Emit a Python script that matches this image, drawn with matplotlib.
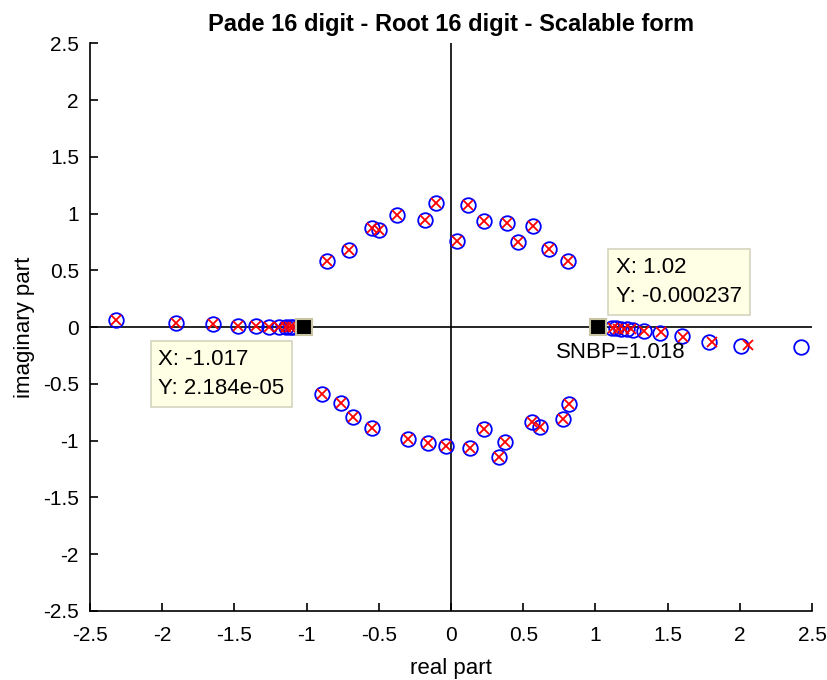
import matplotlib
matplotlib.use("Agg")
import matplotlib.pyplot as plt

plt.rcParams['font.family'] = ['Liberation Sans', 'DejaVu Sans']

# Blue circles (zeros)
circle_re = [-2.320, -1.907, -1.648, -1.473, -1.350, -1.258, -1.189, -1.143, -1.115, -1.094,
             -0.861, -0.706, -0.549, -0.499, -0.372, -0.180, -0.102, 0.039, 0.120, 0.231,
             0.386, 0.462, 0.566, 0.681, 0.812,
             -0.896, -0.764, -0.676, -0.547, -0.300, -0.157, -0.035, 0.134, 0.229, 0.335,
             0.376, 0.559, 0.619, 0.774, 0.819,
             1.117, 1.145, 1.180, 1.221, 1.262, 1.338, 1.447, 1.602, 1.787, 2.011, 2.426]
circle_im = [0.065, 0.035, 0.024, 0.015, 0.009, 0.006, 0.003, 0.002, 0.001, 0.001,
             0.583, 0.677, 0.877, 0.859, 0.992, 0.944, 1.098, 0.759, 1.074, 0.936,
             0.918, 0.750, 0.889, 0.692, 0.580,
             -0.588, -0.667, -0.788, -0.888, -0.985, -1.024, -1.050, -1.065, -0.897, -1.144,
             -1.009, -0.832, -0.883, -0.809, -0.676,
             -0.005, -0.010, -0.014, -0.018, -0.023, -0.029, -0.047, -0.073, -0.126, -0.165, -0.176]

# Red crosses (poles)
cross_re = [-2.320, -1.907, -1.648, -1.473, -1.350, -1.258, -1.189, -1.143, -1.115, -1.094,
            -0.861, -0.706, -0.549, -0.499, -0.372, -0.180, -0.102, 0.039, 0.120, 0.231,
            0.386, 0.462, 0.566, 0.681, 0.812,
            -0.896, -0.764, -0.676, -0.547, -0.300, -0.157, -0.035, 0.134, 0.229, 0.335,
            0.376, 0.559, 0.619, 0.774, 0.819,
            1.120, 1.155, 1.195, 1.245, 1.338, 1.455, 1.609, 1.805, 2.059]
cross_im = [0.065, 0.035, 0.024, 0.015, 0.009, 0.006, 0.003, 0.002, 0.001, 0.001,
            0.583, 0.677, 0.877, 0.859, 0.992, 0.944, 1.098, 0.759, 1.074, 0.936,
            0.918, 0.750, 0.889, 0.692, 0.580,
            -0.588, -0.667, -0.788, -0.888, -0.985, -1.024, -1.050, -1.065, -0.897, -1.144,
            -1.009, -0.832, -0.883, -0.809, -0.676,
            -0.008, -0.012, -0.015, -0.018, -0.029, -0.044, -0.082, -0.132, -0.156]

# data tips
tip_x = [-1.017, 1.02]
tip_y = [2.184e-05, -0.000237]
tip_text = ["X: -1.017\nY: 2.184e-05", "X: 1.02\nY: -0.000237"]
tip_pos = [(-2.027, -0.413), (1.141, 0.397)]

snbp = 1.018

fig = plt.figure(figsize=(8.28, 6.8), dpi=100)
ax = fig.add_axes([0.1087, 0.1015, 0.872, 0.8346])

ax.plot([-2.5, 2.5], [0, 0], color='black', lw=1.2, zorder=1)
ax.plot([0, 0], [-2.5, 2.5], color='black', lw=1.2, zorder=1)

ax.plot(circle_re, circle_im, 'o', ms=10.5, mfc='none', mec='#0000FF', mew=1.3, zorder=3)
ax.plot(cross_re, cross_im, 'x', ms=7, mec='#FF0000', mew=1.3, zorder=4)

ax.plot(tip_x, tip_y, 's', ms=11, mfc='black', mec='#C8C3A0', mew=1.5, zorder=5)
for (tx, ty), txt in zip(tip_pos, tip_text):
    ax.text(tx, ty, txt, fontsize=16, ha='left', va='center', linespacing=1.5, zorder=6,
            bbox=dict(boxstyle='square,pad=0.35', fc='#FFFFE6', ec='#D4D4C0', lw=1.2))

ax.text(0.727, -0.223, f"SNBP={snbp}", fontsize=16, ha='left', va='center')

ax.set_xlim(-2.5, 2.5)
ax.set_ylim(-2.5, 2.5)
ticks = [-2.5, -2, -1.5, -1, -0.5, 0, 0.5, 1, 1.5, 2, 2.5]
ax.set_xticks(ticks)
ax.set_yticks(ticks)
ax.set_xticklabels([f"{t:g}" for t in ticks])
ax.set_yticklabels([f"{t:g}" for t in ticks])
ax.tick_params(direction='in', length=6, width=1.2, labelsize=15, pad=8)
ax.tick_params(axis='x', pad=11)
ax.spines['top'].set_visible(False)
ax.spines['right'].set_visible(False)
for s in ['left', 'bottom']:
    ax.spines[s].set_linewidth(1.2)

ax.set_xlabel('real part', fontsize=16, labelpad=9)
ax.set_ylabel('imaginary part', fontsize=16, labelpad=6)
ax.set_title('Pade 16 digit - Root 16 digit - Scalable form', fontsize=17,
             fontweight='bold', pad=9)

fig.savefig('out.png', dpi=100)
